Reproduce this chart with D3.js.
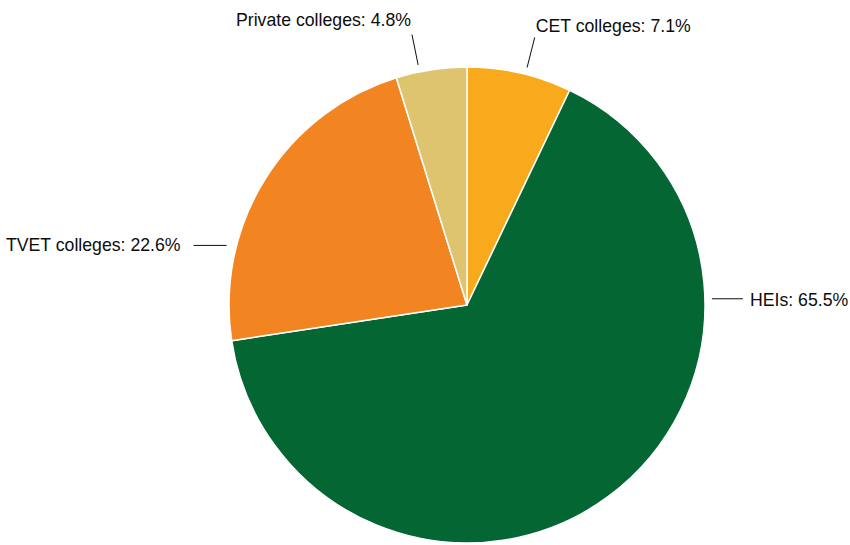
<!DOCTYPE html>
<html>
<head>
<meta charset="utf-8">
<script src="https://cdn.jsdelivr.net/npm/d3@7"></script>
<style>
  html, body { margin: 0; padding: 0; background: #fff; }
  svg { display: block; }
  text { font-family: "Liberation Sans", Arial, sans-serif; fill: #0d0d0d; }
</style>
</head>
<body>
<svg id="chart" width="850" height="545"></svg>
<script>
// Share of enrolments by institution type (%), clockwise from 12 o'clock
const categories = ["CET colleges", "HEIs", "TVET colleges", "Private colleges"];
const shares = [7.1, 65.5, 22.6, 4.8];
const colors = ["#F9AA1C", "#036633", "#F28522", "#DEC46E"];

// Label placement: leader angle (deg, clockwise from top), gap from the rim,
// leader length and text offset from the leader's outer end
const labelLayout = [
  { angle: 14.2, kind: "radial", gap: 7, len: 31, dx: 1, dy: -5, anchor: "start" },
  { angle: 88.5, kind: "h", gap: 7, len: 31, dx: 7, dy: 7, anchor: "start" },
  { angle: 284.5, kind: "h", gap: 10, len: 33, dx: -13, dy: 6, anchor: "end" },
  { angle: -11.5, kind: "radial", gap: 7, len: 31, dx: -1, dy: -9, anchor: "end" }
];

const svg = d3.select("#chart");
const cx = 467, cy = 305, r = 238;

const pie = d3.pie().sort(null).value(d => d);
const arcs = pie(shares);
const arc = d3.arc().innerRadius(0).outerRadius(r);

const g = svg.append("g").attr("transform", `translate(${cx},${cy})`);

g.selectAll("path.slice")
  .data(arcs)
  .join("path")
  .attr("class", "slice")
  .attr("d", arc)
  .attr("fill", (d, i) => colors[i])
  .attr("stroke", "#fff")
  .attr("stroke-width", 1.5)
  .attr("stroke-linejoin", "round");

const rad = a => a * Math.PI / 180;
const onCircle = (a, rr) => [rr * Math.sin(rad(a)), -rr * Math.cos(rad(a))];

labelLayout.forEach((L, i) => {
  let p0, p1;
  if (L.kind === "radial") {
    p0 = onCircle(L.angle, r + L.gap);
    p1 = onCircle(L.angle, r + L.gap + L.len);
  } else {
    const e = onCircle(L.angle, r);
    const dir = Math.sign(e[0]);
    p0 = [e[0] + dir * L.gap, e[1]];
    p1 = [p0[0] + dir * L.len, e[1]];
  }
  g.append("line")
    .attr("x1", p0[0]).attr("y1", p0[1])
    .attr("x2", p1[0]).attr("y2", p1[1])
    .attr("stroke", "#0d0d0d")
    .attr("stroke-width", 1);
  g.append("text")
    .attr("x", p1[0] + L.dx)
    .attr("y", p1[1] + L.dy)
    .attr("text-anchor", L.anchor)
    .attr("font-size", 17.7)
    .text(`${categories[i]}: ${shares[i].toFixed(1)}%`);
});
</script>
</body>
</html>
